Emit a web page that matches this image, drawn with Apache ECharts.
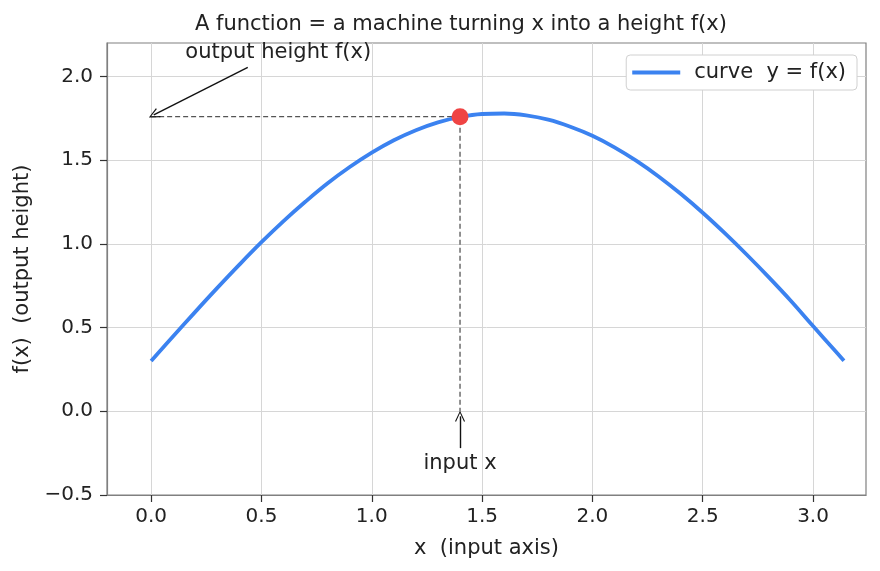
<!DOCTYPE html>
<html>
<head>
<meta charset="utf-8">
<script src="https://cdn.jsdelivr.net/npm/echarts@6/dist/echarts.min.js"></script>
<style>
  html, body { margin: 0; padding: 0; background: #fff; }
  #main { width: 880px; height: 571px; }
</style>
</head>
<body>
<div id="main"></div>
<script>
// curve values
let xs = [0, 0.1, 0.2, 0.3, 0.4, 0.5, 0.6, 0.7, 0.8, 0.9, 1.0, 1.1, 1.2, 1.3, 1.4, 1.5, 1.6, 1.7, 1.8, 1.9, 2.0, 2.1, 2.2, 2.3, 2.4, 2.5, 2.6, 2.7, 2.8, 2.9, 3.0, 3.1, 3.14];
let ys = [0.300, 0.448, 0.594, 0.737, 0.876, 1.010, 1.136, 1.253, 1.362, 1.459, 1.545, 1.619, 1.679, 1.726, 1.758, 1.776, 1.779, 1.768, 1.742, 1.700, 1.646, 1.577, 1.496, 1.403, 1.299, 1.186, 1.064, 0.935, 0.800, 0.659, 0.509, 0.362, 0.302];
let xTicks = [0, 0.5, 1.0, 1.5, 2.0, 2.5, 3.0];
let yTicks = [-0.5, 0, 0.5, 1.0, 1.5, 2.0];
// the marked point
let px = 1.4, py = 1.76;

let myChart = echarts.init(document.getElementById('main'));

let chevron = 'path://M0,10 L5,0 L10,10 L9,10.6 L5,2.2 L1,10.6 Z';
let font = 'DejaVu Sans';

myChart.setOption({
    animation: false,
    textStyle: { fontFamily: font },
    title: {
        text: 'A function = a machine turning x into a height f(x)',
        left: 190,
        top: 9,
        textStyle: { fontFamily: font, fontSize: 21, fontWeight: 'normal', color: '#222' }
    },
    legend: {
        data: ['curve  y = f(x)'],
        right: 23,
        top: 55,
        icon: 'rect',
        itemWidth: 48,
        itemHeight: 4,
        padding: [7, 11, 7, 6],
        backgroundColor: '#fff',
        borderColor: '#d0d0d0',
        borderWidth: 1,
        borderRadius: 4,
        textStyle: { fontFamily: font, fontSize: 21, color: '#222', padding: [0, 0, 0, 9] }
    },
    grid: {
        left: 107, right: 14, top: 43, bottom: 76,
        show: true, borderColor: '#808080', borderWidth: 1.2
    },
    xAxis: {
        type: 'value',
        min: -0.2,
        max: 3.24,
        name: 'x  (input axis)',
        nameLocation: 'middle',
        nameGap: 43,
        nameTextStyle: { fontFamily: font, fontSize: 21, color: '#222' },
        axisLine: { show: true, onZero: false, lineStyle: { color: '#808080', width: 1.2 } },
        axisTick: { show: true, length: 7, customValues: xTicks, lineStyle: { color: '#333', width: 1.2 } },
        axisLabel: { customValues: xTicks, fontSize: 20, color: '#222', margin: 12, formatter: v => v.toFixed(1) },
        splitLine: { show: true, lineStyle: { color: '#d6d6d6', width: 1 } }
    },
    yAxis: {
        type: 'value',
        min: -0.5,
        max: 2.2,
        name: 'f(x)  (output height)',
        nameLocation: 'middle',
        nameGap: 63,
        nameTextStyle: { fontFamily: font, fontSize: 21, color: '#222' },
        axisLine: { show: true, onZero: false, lineStyle: { color: '#808080', width: 1.2 } },
        axisTick: { show: true, length: 7, customValues: yTicks, lineStyle: { color: '#333', width: 1.2 } },
        axisLabel: { customValues: yTicks, fontSize: 20, color: '#222', margin: 14,
            formatter: v => (v < 0 ? '\u2212' + Math.abs(v).toFixed(1) : v.toFixed(1)) },
        splitLine: { show: true, lineStyle: { color: '#d6d6d6', width: 1 } }
    },
    series: [
        {
            name: 'curve  y = f(x)',
            type: 'line',
            data: xs.map((x, i) => [x, ys[i]]),
            smooth: 0.4,
            showSymbol: false,
            color: '#3b82f0',
            lineStyle: { width: 3.8, color: '#3b82f0' },
            z: 3
        },
        {
            name: 'guide',
            type: 'line',
            data: [[0, py], [px, py], [px, 0]],
            showSymbol: false,
            lineStyle: { type: [5, 3], width: 1.3, color: '#555' },
            z: 2,
            markLine: {
                silent: true,
                symbol: ['none', chevron],
                symbolSize: [10, 11],
                lineStyle: { type: 'solid', color: '#111', width: 1.4 },
                label: { show: false },
                data: [
                    [{ coord: [0.438, 2.054] }, { coord: [0.012, 1.77] }],
                    [{ coord: [px, -0.22] }, { coord: [px, -0.03] }]
                ]
            }
        },
        {
            name: 'point',
            type: 'scatter',
            data: [[px, py]],
            symbolSize: 17,
            itemStyle: { color: '#ef4444', opacity: 1 },
            z: 5
        },
        {
            name: 'notes',
            type: 'scatter',
            symbolSize: 0,
            itemStyle: { opacity: 1 },
            data: [
                { value: [0.576, 2.143], label: { formatter: 'output height f(x)' } },
                { value: [px, -0.313], label: { formatter: 'input x' } }
            ],
            label: { show: true, position: 'inside', fontFamily: font, fontSize: 21, color: '#222' },
            z: 6
        }
    ]
});
</script>
</body>
</html>
